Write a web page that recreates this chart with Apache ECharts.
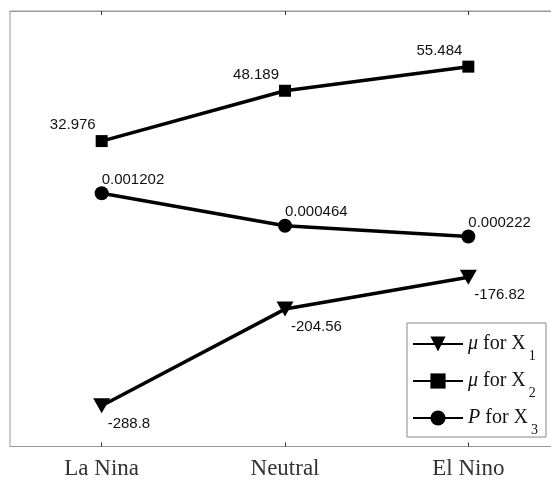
<!DOCTYPE html>
<html>
<head>
<meta charset="utf-8">
<script src="https://cdn.jsdelivr.net/npm/echarts@6/dist/echarts.min.js"></script>
<style>
html,body{margin:0;padding:0;background:#fff;}
#c{width:551px;height:482px;}
</style>
</head>
<body>
<div id="c"></div>
<script>
const categories = ['La Nina', 'Neutral', 'El Nino'];
const muX1 = [-288.8, -204.56, -176.82];
const muX2 = [32.976, 48.189, 55.484];
const pX3 = [0.001202, 0.000464, 0.000222];
const seriesNames = ['μ for X1', 'μ for X2', 'P for X3'];

const chart = echarts.init(document.getElementById('c'), null, {renderer: 'canvas'});
const labelFont = {fontFamily: 'Liberation Sans, Arial, sans-serif', fontSize: 15, color: '#111'};
const lbl = (align, offset) => Object.assign({
  show: true, position: 'inside', align: align, verticalAlign: 'middle', offset: offset,
  formatter: p => String(p.value)
}, labelFont);

const legendText = {
  'μ for X1': '{i|μ} for X{s|1}',
  'μ for X2': '{i|μ} for X{s|2}',
  'P for X3': '{i|P} for X{s|3}'
};

chart.setOption({
  animation: false,
  backgroundColor: '#fff',
  grid: {left: 10, top: 11, width: 550, height: 435.5, outerBoundsMode: 'none', containLabel: false,
         show: true, borderColor: '#9a9a9a', borderWidth: 1, backgroundColor: 'transparent'},
  xAxis: [{
    type: 'category', data: categories, position: 'bottom', boundaryGap: true,
    axisLine: {show: true, onZero: false, lineStyle: {color: '#9a9a9a', width: 1}},
    axisTick: {show: true, inside: true, length: 4, alignWithLabel: true, lineStyle: {color: '#333'}},
    axisLabel: {fontFamily: 'Liberation Serif, Times New Roman, serif', fontSize: 23, color: '#333', margin: 11}
  }, {
    type: 'category', data: categories, position: 'top', boundaryGap: true,
    axisLine: {show: true, onZero: false, lineStyle: {color: '#9a9a9a', width: 1}},
    axisTick: {show: true, inside: true, length: 4, alignWithLabel: true, lineStyle: {color: '#333'}},
    axisLabel: {show: false}
  }],
  yAxis: [
    {type: 'value', show: false, min: -324.3, max: 55.19, splitLine: {show: false}},
    {type: 'value', show: false, min: -59.38, max: 72.31, splitLine: {show: false}},
    {type: 'value', show: false, min: -0.004548, max: 0.005341, splitLine: {show: false}}
  ],
  legend: {
    orient: 'vertical', left: 407, top: 323,
    padding: [11, 8, 0, 5], itemGap: 8, itemWidth: 50, itemHeight: 19,
    backgroundColor: '#fff', borderColor: '#888', borderWidth: 1,
    data: seriesNames,
    formatter: n => legendText[n],
    textStyle: {
      fontFamily: 'Liberation Serif, Times New Roman, serif', fontSize: 20, color: '#111',
      rich: {
        i: {fontFamily: 'Liberation Serif, Times New Roman, serif', fontStyle: 'italic', fontSize: 20, color: '#111'},
        s: {fontFamily: 'Liberation Serif, Times New Roman, serif', fontSize: 14, color: '#111', padding: [24, 0, 0, 3]}
      }
    }
  },
  series: [{
    name: seriesNames[0], type: 'line', yAxisIndex: 0, data: muX1,
    symbol: 'triangle', symbolRotate: 180, symbolSize: [17, 15],
    lineStyle: {color: '#000', width: 3.5}, itemStyle: {color: '#000'},
    label: lbl('left', [6, 18])
  }, {
    name: seriesNames[1], type: 'line', yAxisIndex: 1, data: muX2,
    symbol: 'rect', symbolSize: 12,
    lineStyle: {color: '#000', width: 3.5}, itemStyle: {color: '#000'},
    label: lbl('right', [-6, -16])
  }, {
    name: seriesNames[2], type: 'line', yAxisIndex: 2, data: pX3,
    symbol: 'circle', symbolSize: 14,
    lineStyle: {color: '#000', width: 3.5}, itemStyle: {color: '#000'},
    label: lbl('left', [0, -13.5])
  }]
});
</script>
</body>
</html>
